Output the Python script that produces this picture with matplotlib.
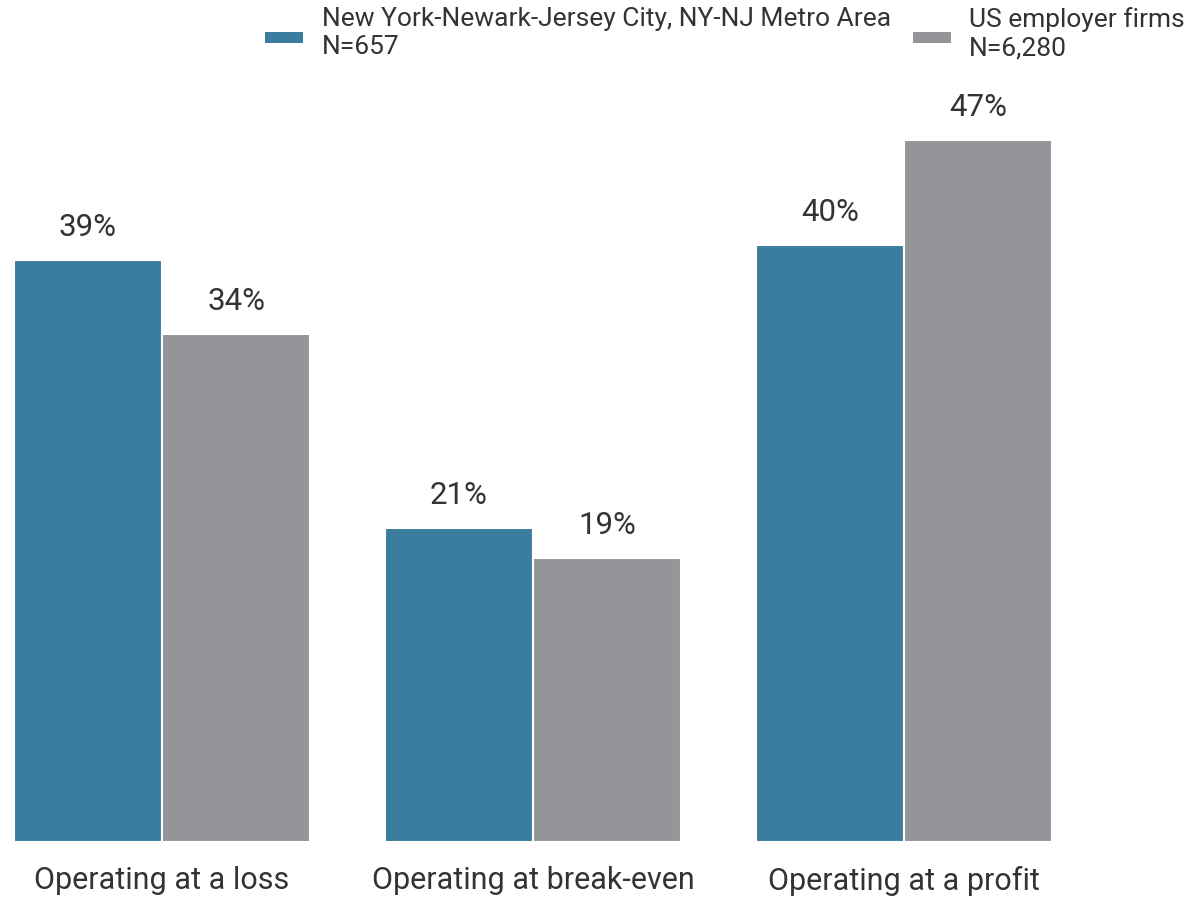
import matplotlib
matplotlib.use("Agg")
import matplotlib.pyplot as plt
import numpy as np
from matplotlib.patches import Rectangle

categories = ["Operating at a loss", "Operating at break-even", "Operating at a profit"]
ny_values = [39, 21, 40]
us_values = [34, 19, 47]
series_names = ["New York-Newark-Jersey City, NY-NJ Metro Area\nN=657", "US employer firms\nN=6,280"]

BLUE = "#3a7d9e"
GRAY = "#949599"
TEXT = "#333333"

plt.rcParams['font.family'] = ['Roboto', 'DejaVu Sans']

W, H = 1194, 899
fig = plt.figure(figsize=(W/100, H/100), dpi=100)
ax = fig.add_axes([0, 57/H, 1, 752/H])

x = np.arange(len(categories))
w = 0.4
b1 = ax.bar(x - w/2, ny_values, w, color=BLUE, edgecolor="white", linewidth=1.5)
b2 = ax.bar(x + w/2, us_values, w, color=GRAY, edgecolor="white", linewidth=1.5)

for bars, vals in ((b1, ny_values), (b2, us_values)):
    for r, v in zip(bars, vals):
        ax.annotate(f"{v}%", (r.get_x() + r.get_width()/2, v), xytext=(0, 13),
                    textcoords="offset points", ha="center", va="bottom",
                    fontsize=22.5, color=TEXT)

ax.set_xlim(-0.437, 2.782)
ax.set_ylim(0, 752/14.93)
ax.set_xticks(x)
ax.set_xticklabels(categories, fontsize=22, color=TEXT)
ax.tick_params(axis='x', length=0, pad=17)
ax.set_yticks([])
for s in ax.spines.values():
    s.set_visible(False)

# legend drawn manually to match the reference placement
legend_items = [(265, 322, BLUE, series_names[0]), (913, 969, GRAY, series_names[1])]
for px, tx, col, label in legend_items:
    fig.patches.append(Rectangle((px/W, 1 - 43/H), 38/W, 11/H, transform=fig.transFigure,
                                 facecolor=col, edgecolor="none"))
    fig.text(tx/W, 1 - 7/H, label, ha="left", va="top", fontsize=19, color=TEXT,
             linespacing=1.22)

fig.savefig("out.png", dpi=100)
